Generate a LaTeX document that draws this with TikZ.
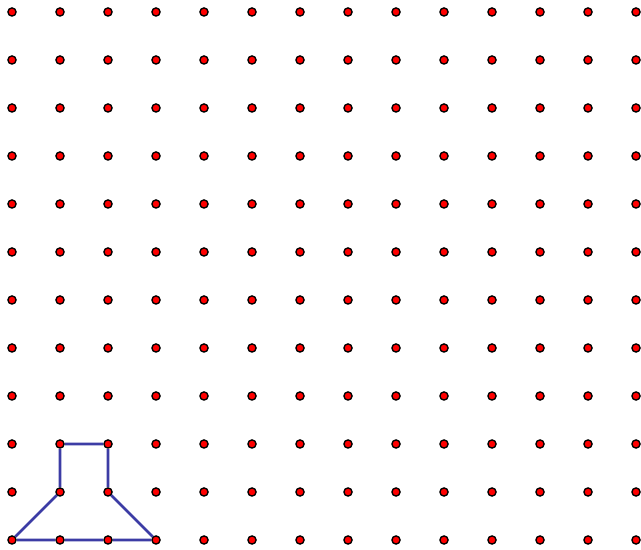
\documentclass[tikz,border=0pt]{standalone}
\usetikzlibrary{positioning}

\definecolor{dotred}{RGB}{255,0,0}
\definecolor{edgeblue}{RGB}{60,60,165}

\tikzset{
  gridpt/.style={circle, draw=black, line width=0.8pt, fill=dotred,
    inner sep=0pt, minimum size=0.17cm},
  shapeline/.style={draw=edgeblue, line width=1.5pt}
}

\begin{document}
\begin{tikzpicture}[x=1cm, y=1cm]
\useasboundingbox (-0.25,-0.208) rectangle (13.104,11.25);

% Grid of pegs
\foreach \i in {0,...,13}{
  \foreach \j in {0,...,11}{
    \node[gridpt] (d-\i-\j) at (\i,\j) {};
  }
}

% The shape
\path[shapeline] (d-0-0) -- (d-1-0) -- (d-2-0) -- (d-3-0) -- (d-2-1)
  -- (d-2-2) -- (d-1-2) -- (d-1-1) -- (d-0-0);
\end{tikzpicture}
\end{document}
